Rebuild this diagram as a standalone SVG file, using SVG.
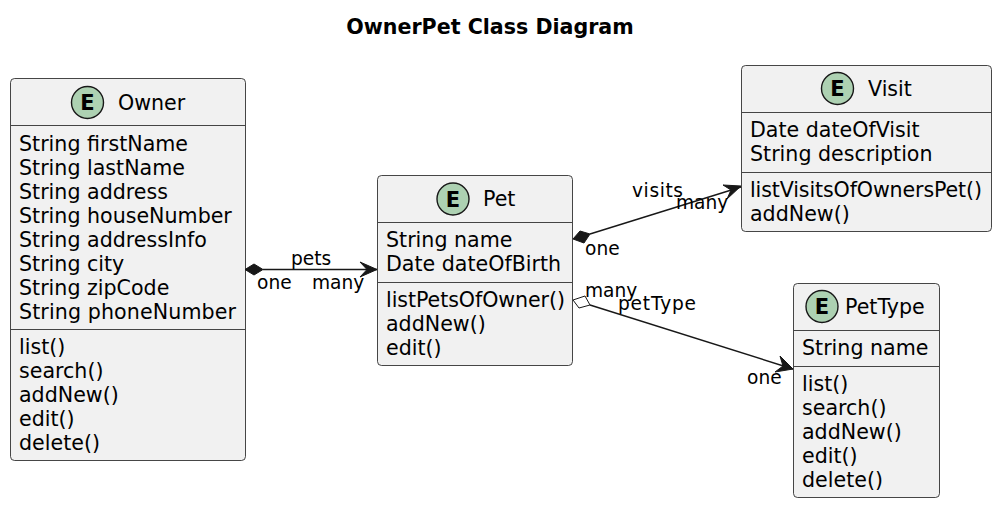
<svg xmlns="http://www.w3.org/2000/svg" width="1000" height="505" viewBox="0 0 1000 505">
<style>
text{font-family:"DejaVu Sans",sans-serif;fill:#000}
.t{font-size:20.6px}
.n{font-size:20.6px}
.l{font-size:18.6px}
.b{fill:#f1f1f1;stroke:#181818;stroke-width:0.8}
.s{stroke:#181818;stroke-width:0.8;fill:none}
.c{fill:#add1b2;stroke:#181818;stroke-width:1.4}
.e{font-family:"DejaVu Sans",sans-serif;font-weight:700;font-size:21px;text-anchor:middle}
.k{stroke:#181818;stroke-width:1.4;fill:none}
</style>
<rect width="1000" height="505" fill="#fff"/>
<text x="490" y="33.500" text-anchor="middle" font-size="20.6" font-weight="700">OwnerPet Class Diagram</text>
<g id="owner">
<rect class="b" x="10.500" y="78.500" width="235" height="382" rx="4"/>
<circle class="c" cx="87.500" cy="102.500" r="16"/>
<text class="e" x="87.500" y="110">E</text>
<text class="t" x="118" y="109.500">Owner</text>
<path class="s" d="M11 125.500H245M11 329.500H245"/>
<text class="n" x="19" y="150.500">String firstName</text>
<text class="n" x="19" y="174.500">String lastName</text>
<text class="n" x="19" y="198.500">String address</text>
<text class="n" x="19" y="222.500">String houseNumber</text>
<text class="n" x="19" y="246.500">String addressInfo</text>
<text class="n" x="19" y="270.500">String city</text>
<text class="n" x="19" y="294.500">String zipCode</text>
<text class="n" x="19" y="318.500" textLength="217">String phoneNumber</text>
<text class="n" x="19" y="354">list()</text>
<text class="n" x="19" y="378">search()</text>
<text class="n" x="19" y="402">addNew()</text>
<text class="n" x="19" y="426">edit()</text>
<text class="n" x="19" y="450">delete()</text>
</g>
<g id="pet">
<rect class="b" x="377.500" y="175.500" width="195" height="190" rx="4"/>
<circle class="c" cx="453" cy="199" r="16"/>
<text class="e" x="453" y="206.500">E</text>
<text class="t" x="483" y="206">Pet</text>
<path class="s" d="M378 222.500H572M378 282.500H572"/>
<text class="n" x="386" y="247">String name</text>
<text class="n" x="386" y="271">Date dateOfBirth</text>
<text class="n" x="386" y="307" textLength="179">listPetsOfOwner()</text>
<text class="n" x="386" y="331">addNew()</text>
<text class="n" x="386" y="355">edit()</text>
</g>
<g id="visit">
<rect class="b" x="741.500" y="65.500" width="250" height="166" rx="4"/>
<circle class="c" cx="837.500" cy="88.500" r="16"/>
<text class="e" x="837.500" y="96">E</text>
<text class="t" x="868" y="96">Visit</text>
<path class="s" d="M742 112.500H991M742 172.500H991"/>
<text class="n" x="750" y="137">Date dateOfVisit</text>
<text class="n" x="750" y="161">String description</text>
<text class="n" x="750" y="197" textLength="232">listVisitsOfOwnersPet()</text>
<text class="n" x="750" y="221">addNew()</text>
</g>
<g id="pettype">
<rect class="b" x="793.500" y="283.500" width="146" height="214" rx="4"/>
<circle class="c" cx="822" cy="306.500" r="16"/>
<text class="e" x="822" y="314">E</text>
<text class="t" x="845" y="314">PetType</text>
<path class="s" d="M794 330.500H939M794 366.500H939"/>
<text class="n" x="802" y="355">String name</text>
<text class="n" x="802" y="391">list()</text>
<text class="n" x="802" y="415">search()</text>
<text class="n" x="802" y="439">addNew()</text>
<text class="n" x="802" y="463">edit()</text>
<text class="n" x="802" y="487">delete()</text>
</g>
<g id="connectors">
<path class="k" d="M263 269.500H377"/>
<path d="M245 269.500L254 264L263 269.500L254 275Z" fill="#181818" stroke="#181818"/>
<path d="M377 269.500L360 262L367 269.500L360 277Z" fill="#181818" stroke="#181818"/>
<path class="k" d="M590 234L741 187"/>
<path d="M573 239L580 231L590 234L584 243Z" fill="#181818" stroke="#181818"/>
<path d="M741 186L723 185L731 190L727 199Z" fill="#181818" stroke="#181818"/>
<path class="k" d="M590 305L793 369"/>
<path d="M573 300L585 296L590 305L579 308Z" fill="#fff" stroke="#181818"/>
<path d="M793 369L780 356L783 366L775 372Z" fill="#181818" stroke="#181818"/>
<text class="l" x="291" y="265">pets</text>
<text class="l" x="257" y="289">one</text>
<text class="l" x="312" y="289">many</text>
<text class="l" x="632" y="197" textLength="51">visits</text>
<text class="l" x="676" y="209">many</text>
<text class="l" x="585" y="255">one</text>
<text class="l" x="585" y="297">many</text>
<text class="l" x="618" y="310" textLength="78">petType</text>
<text class="l" x="747" y="384">one</text>
</g>
</svg>
